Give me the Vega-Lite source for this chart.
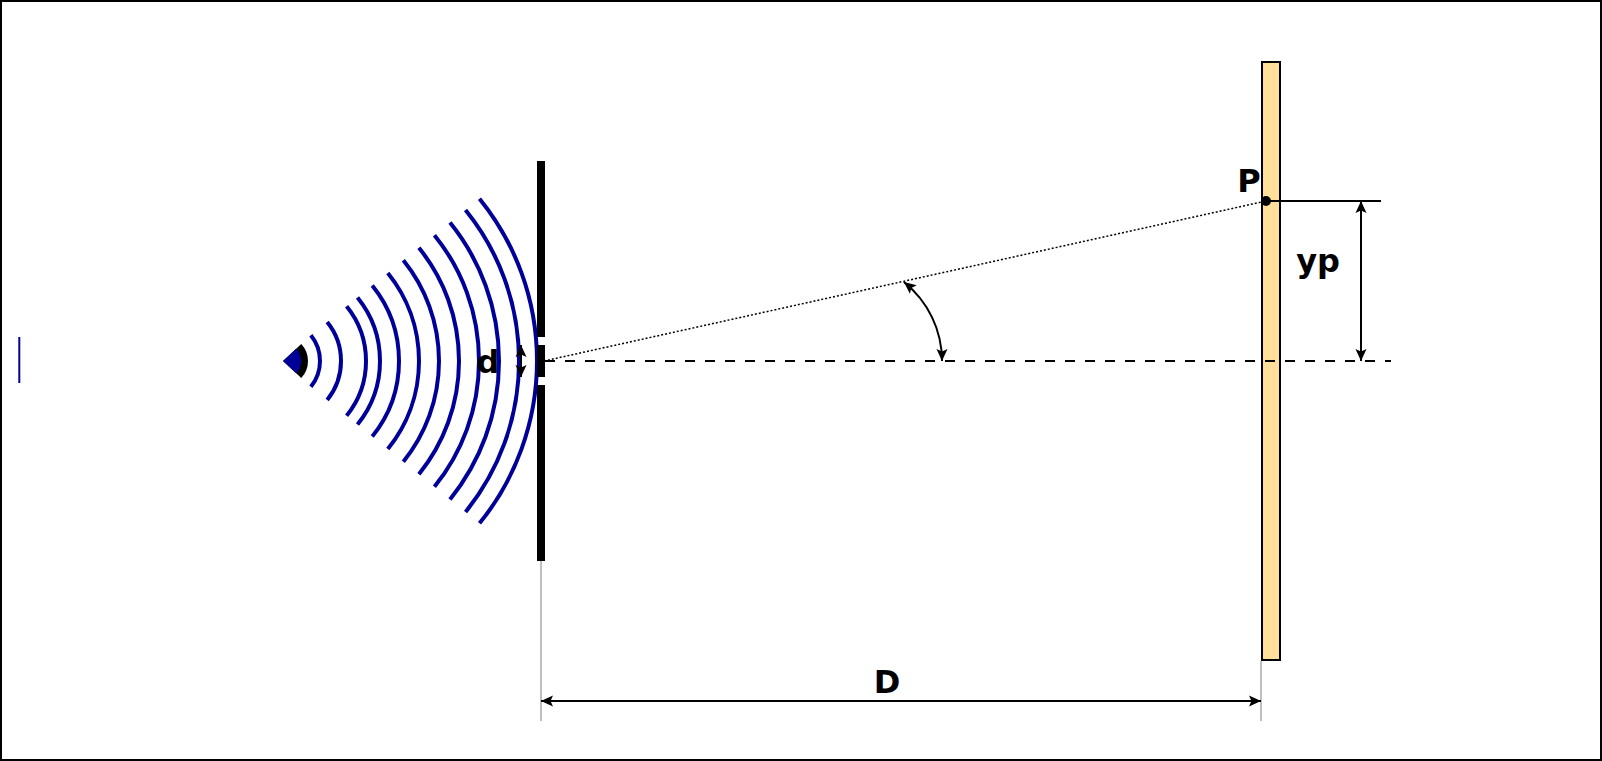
{
  "$schema": "https://vega.github.io/schema/vega-lite/v6.json",
  "width": 1602,
  "height": 761,
  "autosize": {"type": "fit", "contains": "padding"},
  "padding": 0,
  "background": "white",
  "config": {"view": {"stroke": "black", "strokeWidth": 4}},
  "datasets": {
    "screen": [{"x": 721, "x2": 739, "y": 299, "y2": -299}],
    "barrier": [
      {"x": -4, "x2": 4, "y": 200, "y2": 24},
      {"x": -4, "x2": 4, "y": 16, "y2": -16},
      {"x": -4, "x2": 4, "y": -24, "y2": -200}
    ],
    "waves": [
      {"x": -262, "y": 0, "r": 41, "t1": 51, "t2": 129},
      {"x": -262, "y": 0, "r": 62, "t1": 51, "t2": 129},
      {"x": -262, "y": 0, "r": 87, "t1": 51, "t2": 129},
      {"x": -262, "y": 0, "r": 101, "t1": 51, "t2": 129},
      {"x": -262, "y": 0, "r": 120, "t1": 51, "t2": 129},
      {"x": -262, "y": 0, "r": 140, "t1": 51, "t2": 129},
      {"x": -262, "y": 0, "r": 160, "t1": 51, "t2": 129},
      {"x": -262, "y": 0, "r": 180, "t1": 51, "t2": 129},
      {"x": -262, "y": 0, "r": 200, "t1": 51, "t2": 129},
      {"x": -262, "y": 0, "r": 220, "t1": 51, "t2": 129},
      {"x": -262, "y": 0, "r": 240, "t1": 51, "t2": 129},
      {"x": -262, "y": 0, "r": 258, "t1": 51, "t2": 129}
    ],
    "source": [
      {"part": "rim", "x": -258, "y": 0, "r": 25, "r0": 0, "t1": 47, "t2": 133},
      {"part": "core", "x": -258, "y": 0, "r": 18, "r0": 0, "t1": 47, "t2": 133}
    ],
    "curve": [{"x": 300, "y": 0, "r": 101, "t1": 38.5, "t2": 90}],
    "gray": [
      {"x": 0, "y": -200, "x2": 0, "y2": -360},
      {"x": 720, "y": -300, "x2": 720, "y2": -360}
    ],
    "dashed": [{"x": 4, "y": 0, "x2": 850, "y2": 0}],
    "dotted": [{"x": 3, "y": 0, "x2": 725, "y2": 160}],
    "solid": [
      {"x": 725, "y": 160, "x2": 840, "y2": 160},
      {"x": 820, "y": 160, "x2": 820, "y2": 0},
      {"x": -20, "y": 16, "x2": -20, "y2": -16},
      {"x": 0, "y": -340, "x2": 720, "y2": -340}
    ],
    "bluemark": [{"x": -521.7, "y": 24, "x2": -521.7, "y2": -22}],
    "heads": [
      {"x": -20, "y": 16, "angle": 0},
      {"x": -20, "y": -16, "angle": 180},
      {"x": 820, "y": 160, "angle": 0},
      {"x": 820, "y": 0, "angle": 180},
      {"x": 0, "y": -340, "angle": 270},
      {"x": 720, "y": -340, "angle": 90},
      {"x": 362.9, "y": 79, "angle": 308.5},
      {"x": 401, "y": 0, "angle": 180}
    ],
    "dots": [{"x": 725, "y": 160}],
    "labels": [
      {"text": "d", "x": -53, "y": -12},
      {"text": "P", "x": 708, "y": 169},
      {"text": "yp", "x": 777, "y": 89},
      {"text": "D", "x": 346, "y": -332}
    ]
  },
  "layer": [
    {
      "data": {"name": "gray"},
      "mark": {"type": "rule", "color": "#808080", "strokeWidth": 1},
      "encoding": {
        "x": {"field": "x", "type": "quantitative", "scale": {"domain": [-541, 1061], "nice": false, "zero": false}, "axis": null},
        "y": {"field": "y", "type": "quantitative", "scale": {"domain": [-400, 361], "nice": false, "zero": false}, "axis": null},
        "x2": {"field": "x2"},
        "y2": {"field": "y2"}
      }
    },
    {
      "data": {"name": "screen"},
      "mark": {"type": "rect", "fill": "#FFDF99", "stroke": "black", "strokeWidth": 2},
      "encoding": {
        "x": {"field": "x", "type": "quantitative", "scale": {"domain": [-541, 1061], "nice": false, "zero": false}, "axis": null},
        "y": {"field": "y", "type": "quantitative", "scale": {"domain": [-400, 361], "nice": false, "zero": false}, "axis": null},
        "x2": {"field": "x2"},
        "y2": {"field": "y2"}
      }
    },
    {
      "data": {"name": "waves"},
      "mark": {"type": "arc", "filled": false, "stroke": "#000099", "strokeWidth": 4},
      "encoding": {
        "x": {"field": "x", "type": "quantitative", "scale": {"domain": [-541, 1061], "nice": false, "zero": false}, "axis": null},
        "y": {"field": "y", "type": "quantitative", "scale": {"domain": [-400, 361], "nice": false, "zero": false}, "axis": null},
        "radius": {"field": "r", "type": "quantitative", "scale": {"type": "linear", "domain": [0, 1000], "range": [0, 1000], "zero": true}},
        "radius2": {"field": "r"},
        "theta": {"field": "t1", "type": "quantitative", "stack": null, "scale": {"type": "linear", "domain": [0, 360], "range": [0, 6.283185307]}},
        "theta2": {"field": "t2"}
      }
    },
    {
      "data": {"name": "source"},
      "mark": {"type": "arc", "strokeWidth": 0},
      "encoding": {
        "x": {"field": "x", "type": "quantitative", "scale": {"domain": [-541, 1061], "nice": false, "zero": false}, "axis": null},
        "y": {"field": "y", "type": "quantitative", "scale": {"domain": [-400, 361], "nice": false, "zero": false}, "axis": null},
        "radius": {"field": "r", "type": "quantitative", "scale": {"type": "linear", "domain": [0, 1000], "range": [0, 1000], "zero": true}},
        "radius2": {"field": "r0"},
        "theta": {"field": "t1", "type": "quantitative", "stack": null, "scale": {"type": "linear", "domain": [0, 360], "range": [0, 6.283185307]}},
        "theta2": {"field": "t2"},
        "color": {"field": "part", "type": "nominal", "scale": {"domain": ["rim", "core"], "range": ["#000000", "#000099"]}, "legend": null},
        "order": {"field": "r", "sort": "descending"}
      }
    },
    {
      "data": {"name": "barrier"},
      "mark": {"type": "rect", "color": "black"},
      "encoding": {
        "x": {"field": "x", "type": "quantitative", "scale": {"domain": [-541, 1061], "nice": false, "zero": false}, "axis": null},
        "y": {"field": "y", "type": "quantitative", "scale": {"domain": [-400, 361], "nice": false, "zero": false}, "axis": null},
        "x2": {"field": "x2"},
        "y2": {"field": "y2"}
      }
    },
    {
      "data": {"name": "dashed"},
      "mark": {"type": "rule", "color": "black", "strokeWidth": 2, "strokeDash": [10, 10]},
      "encoding": {
        "x": {"field": "x", "type": "quantitative", "scale": {"domain": [-541, 1061], "nice": false, "zero": false}, "axis": null},
        "y": {"field": "y", "type": "quantitative", "scale": {"domain": [-400, 361], "nice": false, "zero": false}, "axis": null},
        "x2": {"field": "x2"},
        "y2": {"field": "y2"}
      }
    },
    {
      "data": {"name": "dotted"},
      "mark": {"type": "rule", "color": "black", "strokeWidth": 1.5, "strokeDash": [2, 2]},
      "encoding": {
        "x": {"field": "x", "type": "quantitative", "scale": {"domain": [-541, 1061], "nice": false, "zero": false}, "axis": null},
        "y": {"field": "y", "type": "quantitative", "scale": {"domain": [-400, 361], "nice": false, "zero": false}, "axis": null},
        "x2": {"field": "x2"},
        "y2": {"field": "y2"}
      }
    },
    {
      "data": {"name": "solid"},
      "mark": {"type": "rule", "color": "black", "strokeWidth": 2},
      "encoding": {
        "x": {"field": "x", "type": "quantitative", "scale": {"domain": [-541, 1061], "nice": false, "zero": false}, "axis": null},
        "y": {"field": "y", "type": "quantitative", "scale": {"domain": [-400, 361], "nice": false, "zero": false}, "axis": null},
        "x2": {"field": "x2"},
        "y2": {"field": "y2"}
      }
    },
    {
      "data": {"name": "bluemark"},
      "mark": {"type": "rule", "color": "#000099", "strokeWidth": 2, "opacity": 1},
      "encoding": {
        "x": {"field": "x", "type": "quantitative", "scale": {"domain": [-541, 1061], "nice": false, "zero": false}, "axis": null},
        "y": {"field": "y", "type": "quantitative", "scale": {"domain": [-400, 361], "nice": false, "zero": false}, "axis": null},
        "x2": {"field": "x2"},
        "y2": {"field": "y2"}
      }
    },
    {
      "data": {"name": "curve"},
      "mark": {"type": "arc", "filled": false, "stroke": "black", "strokeWidth": 2},
      "encoding": {
        "x": {"field": "x", "type": "quantitative", "scale": {"domain": [-541, 1061], "nice": false, "zero": false}, "axis": null},
        "y": {"field": "y", "type": "quantitative", "scale": {"domain": [-400, 361], "nice": false, "zero": false}, "axis": null},
        "radius": {"field": "r", "type": "quantitative", "scale": {"type": "linear", "domain": [0, 1000], "range": [0, 1000], "zero": true}},
        "radius2": {"field": "r"},
        "theta": {"field": "t1", "type": "quantitative", "stack": null, "scale": {"type": "linear", "domain": [0, 360], "range": [0, 6.283185307]}},
        "theta2": {"field": "t2"}
      }
    },
    {
      "data": {"name": "heads"},
      "mark": {"type": "point", "shape": "M0,0L0.55,1.2L0,0.95L-0.55,1.2Z", "filled": true, "color": "black", "opacity": 1, "size": 400, "strokeWidth": 0},
      "encoding": {
        "x": {"field": "x", "type": "quantitative", "scale": {"domain": [-541, 1061], "nice": false, "zero": false}, "axis": null},
        "y": {"field": "y", "type": "quantitative", "scale": {"domain": [-400, 361], "nice": false, "zero": false}, "axis": null},
        "angle": {"field": "angle", "type": "quantitative", "scale": {"type": "linear", "domain": [0, 360], "range": [0, 360]}}
      }
    },
    {
      "data": {"name": "dots"},
      "mark": {"type": "point", "shape": "circle", "filled": true, "color": "black", "opacity": 1, "size": 100},
      "encoding": {
        "x": {"field": "x", "type": "quantitative", "scale": {"domain": [-541, 1061], "nice": false, "zero": false}, "axis": null},
        "y": {"field": "y", "type": "quantitative", "scale": {"domain": [-400, 361], "nice": false, "zero": false}, "axis": null}
      }
    },
    {
      "data": {"name": "labels"},
      "mark": {"type": "text", "font": "DejaVu Sans", "fontWeight": "bold", "fontSize": 32, "align": "center", "baseline": "alphabetic", "color": "black"},
      "encoding": {
        "x": {"field": "x", "type": "quantitative", "scale": {"domain": [-541, 1061], "nice": false, "zero": false}, "axis": null},
        "y": {"field": "y", "type": "quantitative", "scale": {"domain": [-400, 361], "nice": false, "zero": false}, "axis": null},
        "text": {"field": "text", "type": "nominal"}
      }
    }
  ]
}
